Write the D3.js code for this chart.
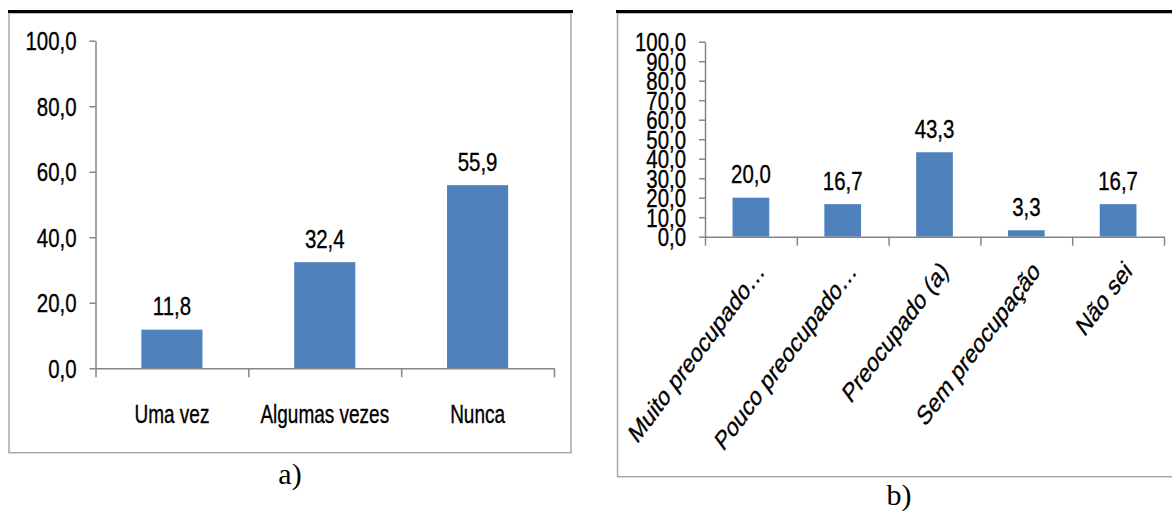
<!DOCTYPE html>
<html>
<head>
<meta charset="utf-8">
<title>Gráficos a) e b)</title>
<script src="https://cdnjs.cloudflare.com/ajax/libs/d3/7.8.5/d3.min.js"></script>
<style>
    body { margin: 0; background: #fff; }
    text { font-family: "Liberation Sans", Arial, sans-serif; fill: #000; stroke: #000; stroke-width: 0.35; }
    .axis path, .axis line { stroke: #868686; stroke-width: 1.5; }
    .axis text { font-size: 25px; fill: #000; stroke-width: 0.35; font-family: "Liberation Sans", Arial, sans-serif; }
    .frame { fill: none; stroke: #a6a6a6; stroke-width: 1.5; }
    .rule { stroke: #000; stroke-width: 3; }
    .caption { font-family: "Liberation Serif", "Times New Roman", serif; font-size: 30px; text-anchor: middle; stroke-width: 0; }
</style>
</head>
<body>
<svg id="chart" width="1172" height="511"></svg>
<script>
// a) frequência
var catsA = ["Uma vez", "Algumas vezes", "Nunca"];
var valsA = [11.8, 32.4, 55.9];
var ticksA = [0, 20, 40, 60, 80, 100];

// b) nível de preocupação
var catsB = ["Muito preocupado…", "Pouco preocupado…", "Preocupado (a)", "Sem preocupação", "Não sei"];
var valsB = [20.0, 16.7, 43.3, 3.3, 16.7];
var ticksB = [0, 10, 20, 30, 40, 50, 60, 70, 80, 90, 100];

var svg = d3.select("#chart");
var fmt = function(d) { return d3.format(".1f")(d).replace(".", ","); };

// the original picture is squeezed sideways, so narrow the glyphs the same way
function squeeze(sel, sx) {
    sel.each(function() {
        var t = d3.select(this);
        var x = +t.attr("x") || 0, y = +t.attr("y") || 0;
        t.attr("x", 0).attr("y", 0)
            .attr("transform", "translate(" + x + "," + y + ") scale(" + sx + ",1)");
    });
}

function drawPanel(opt) {
    var g = svg.append("g");

    // frame + black rule on top
    g.append("rect").attr("class", "frame")
        .attr("x", opt.box[0]).attr("y", opt.box[1])
        .attr("width", opt.box[2] - opt.box[0]).attr("height", opt.box[3] - opt.box[1]);
    g.append("line").attr("class", "rule")
        .attr("x1", opt.rule[0]).attr("x2", opt.rule[1])
        .attr("y1", 11.5).attr("y2", 11.5);

    var y = d3.scaleLinear().domain([0, 100]).range([opt.bottom, opt.top]);
    var x = d3.scaleBand().domain(opt.cats).range([opt.left, opt.right])
        .paddingInner(0.6).paddingOuter(0.3);
    var xb = d3.scaleLinear().domain([0, opt.cats.length]).range([opt.left, opt.right]);

    g.selectAll(".bar")
        .data(opt.vals)
        .enter().append("rect")
        .attr("class", "bar")
        .attr("x", function(d, i) { return x(opt.cats[i]); })
        .attr("width", x.bandwidth())
        .attr("y", function(d) { return y(d); })
        .attr("height", function(d) { return y(0) - y(d); })
        .style("fill", "#4f81bd");

    var yAxis = g.append("g").attr("class", "axis")
        .attr("transform", "translate(" + opt.left + ",0)")
        .call(d3.axisLeft(y).tickValues(opt.ticks).tickFormat(fmt)
            .tickSize(6).tickSizeOuter(0).tickPadding(13));
    squeeze(yAxis.selectAll("text").attr("dy", "0.36em"), 0.816);

    g.append("g").attr("class", "axis")
        .attr("transform", "translate(0," + opt.bottom + ")")
        .call(d3.axisBottom(xb).tickValues(d3.range(opt.cats.length + 1))
            .tickFormat("").tickSize(9).tickSizeOuter(0));

    // value labels
    var vals = g.selectAll(".val")
        .data(opt.vals)
        .enter().append("text")
        .attr("x", function(d, i) { return x(opt.cats[i]) + x.bandwidth() / 2; })
        .attr("y", function(d) { return y(d) - 14.5; })
        .attr("text-anchor", "middle")
        .style("font-size", "25px")
        .text(fmt);
    squeeze(vals, 0.816);

    // category labels
    var lab = g.selectAll(".cat")
        .data(opt.cats)
        .enter().append("text")
        .text(function(d) { return d; });
    if (opt.rotate) {
        lab.attr("text-anchor", "end")
            .attr("dy", "0.35em")
            .style("font-size", "27px")
            .attr("transform", function(d) {
                return "translate(" + (x(d) + x.bandwidth() / 2 + 10) + "," + opt.labelY + ") scale(0.75,1) rotate(-45)";
            });
    } else {
        lab.attr("text-anchor", "middle")
            .attr("x", function(d) { return x(d) + x.bandwidth() / 2; })
            .attr("y", opt.labelY)
            .style("font-size", "25px");
        squeeze(lab, 0.76);
    }

    g.append("text").attr("class", "caption")
        .attr("x", opt.caption[0]).attr("y", opt.caption[1])
        .text(opt.captionText);
}

drawPanel({
    cats: catsA, vals: valsA, ticks: ticksA,
    left: 95.5, right: 554, top: 40.7, bottom: 368.3,
    box: [9, 13, 571, 452.7], rule: [8, 573],
    labelY: 423, rotate: false,
    caption: [290, 484], captionText: "a)"
});

drawPanel({
    cats: catsB, vals: valsB, ticks: ticksB,
    left: 705, right: 1164, top: 41.7, bottom: 236.7,
    box: [617.5, 13, 1185, 476.7], rule: [616, 1172],
    labelY: 266, rotate: true,
    caption: [899, 505], captionText: "b)"
});
</script>
</body>
</html>
